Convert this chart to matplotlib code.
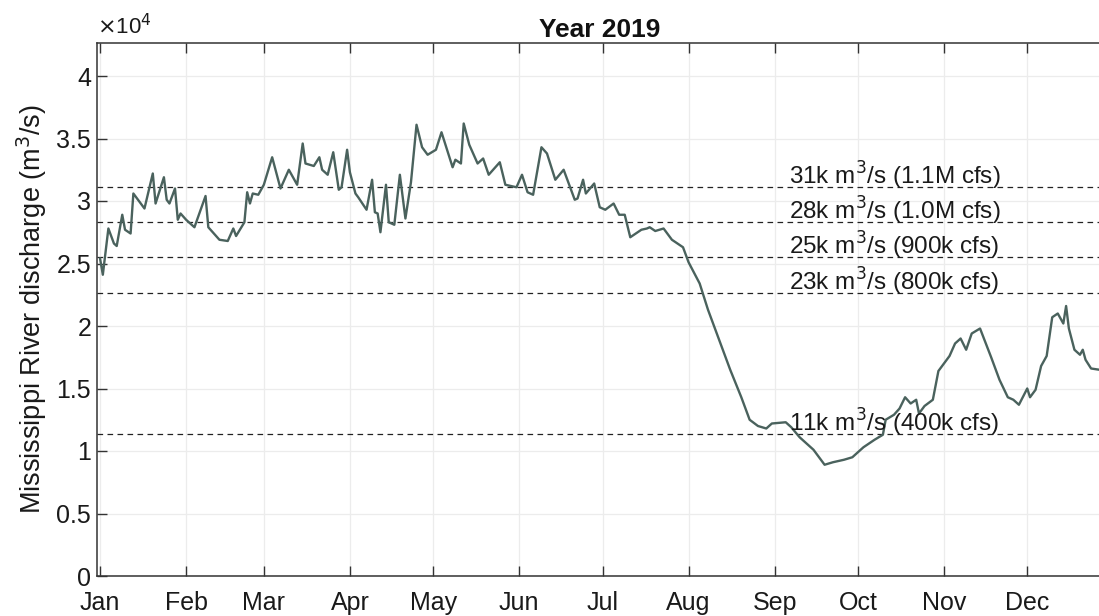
import numpy as np
import matplotlib
matplotlib.use("Agg")
import matplotlib.pyplot as plt
import matplotlib.dates as mdates
from matplotlib.ticker import FuncFormatter, MultipleLocator

plt.rcParams['font.family'] = ['Liberation Sans', 'DejaVu Sans']

# Daily Mississippi River discharge, 2019 (day of year, m^3/s)
day_of_year = [0, 1, 3, 5, 6, 8, 9, 11, 12, 16, 19, 20, 23, 24, 25, 27, 28, 29, 31, 34,
               38, 39, 43, 46, 48, 49, 52, 53, 54, 55, 57, 59, 62, 65, 68, 71, 73, 74, 77, 79,
               80, 82, 84, 86, 87, 89, 90, 92, 93, 96, 98, 99, 100, 101, 103, 104, 106, 108, 110, 112,
               114, 116, 118, 121, 123, 127, 128, 130, 131, 133, 136, 138, 140, 144, 146, 150, 152, 154, 156, 159,
               161, 164, 167, 171, 172, 174, 175, 178, 180, 182, 185, 187, 189, 191, 195, 197, 198, 200, 203, 206,
               210, 212, 216, 219, 223, 227, 231, 234, 237, 240, 242, 247, 249, 252, 257, 261, 264, 268, 271, 275,
               279, 282, 283, 286, 288, 290, 292, 294, 295, 297, 300, 302, 304, 306, 308, 310, 312, 314, 317, 321,
               324, 327, 329, 331, 334, 335, 337, 339, 341, 343, 345, 347, 348, 349, 351, 353, 354, 355, 357, 360]
discharge = [25400, 24100, 27800, 26600, 26400, 28900, 27700, 27400, 30600, 29400, 32200, 29800, 31900, 30100, 29800, 31000, 28500, 29000, 28500, 27900,
             30400, 27900, 26900, 26800, 27800, 27200, 28300, 30700, 29800, 30600, 30500, 31300, 33500, 31000, 32500, 31300, 34600, 33000, 32800, 33500,
             32500, 32100, 33900, 30900, 31100, 34100, 32300, 30600, 30300, 29300, 31700, 29100, 29000, 27500, 31300, 28300, 28100, 32100, 28600, 31500,
             36100, 34300, 33700, 34100, 35500, 32700, 33300, 33000, 36200, 34500, 33000, 33400, 32100, 33100, 31300, 31100, 32100, 30700, 30500, 34300,
             33800, 31700, 32500, 30100, 30200, 31700, 30600, 31400, 29500, 29300, 29800, 28900, 28900, 27100, 27700, 27800, 27900, 27600, 27800, 26900,
             26300, 25100, 23400, 21300, 18900, 16500, 14300, 12500, 12000, 11800, 12200, 12300, 11900, 11100, 10100, 8900, 9100, 9300, 9500, 10300,
             10900, 11300, 12500, 12900, 13400, 14300, 13800, 14100, 13000, 13600, 14100, 16400, 17000, 17600, 18600, 19000, 18100, 19400, 19800, 17500,
             15700, 14300, 14100, 13700, 15000, 14300, 14900, 16800, 17600, 20700, 21000, 20200, 21600, 19800, 18100, 17700, 18100, 17300, 16600, 16500]

# Reference flow levels (cfs) and their labels
threshold_cfs = [1.1e6, 1.0e6, 9.0e5, 8.0e5, 4.0e5]
threshold_labels = ['31k m$^3$/s (1.1M cfs)', '28k m$^3$/s (1.0M cfs)',
                    '25k m$^3$/s (900k cfs)', '23k m$^3$/s (800k cfs)',
                    '11k m$^3$/s (400k cfs)']
CFS_TO_CMS = 0.0283168

start = np.datetime64('2019-01-01')
dates = start + np.array(day_of_year).astype('timedelta64[D]')

W, H = 1099, 616
fig = plt.figure(figsize=(W / 100, H / 100), dpi=100)
ax_l, ax_r, ax_b, ax_t = 96.7, 1103, 576, 43
ax = fig.add_axes([ax_l / W, (H - ax_b) / H, (ax_r - ax_l) / W, (ax_b - ax_t) / H])

ax.plot(dates, discharge, color='#4a625d', lw=1.7, zorder=3)

label_x = start + np.timedelta64(248, 'D')
for cfs, lab in zip(threshold_cfs, threshold_labels):
    q = cfs * CFS_TO_CMS
    ax.axhline(q, color='#222222', lw=0.9, ls=(0, (4.5, 3.5)), zorder=2)
    ax.text(label_x, q + 200, lab, fontsize=17.5, color='#1a1a1a',
            ha='left', va='baseline', zorder=4)

ax.set_xlim(start - np.timedelta64(29, 'h'), start + np.timedelta64(8671, 'h'))
ax.set_ylim(0, 42640)

ax.xaxis.set_major_locator(mdates.MonthLocator())
ax.xaxis.set_major_formatter(mdates.DateFormatter('%b'))
ax.yaxis.set_major_locator(MultipleLocator(5000))
ax.yaxis.set_major_formatter(FuncFormatter(lambda v, p: f'{v / 1e4:g}'))

ax.grid(True, color='#ececec', lw=0.9, zorder=0)
ax.tick_params(axis='both', direction='in', length=7, width=1.0, color='#333333',
               labelsize=18, labelcolor='#1a1a1a')
ax.tick_params(axis='x', top=True, pad=11)
ax.tick_params(axis='y', right=False, pad=4)
for side, sp in ax.spines.items():
    sp.set_color('#333333')
    sp.set_linewidth(1.1)
ax.spines['right'].set_visible(False)

ax.set_title('Year 2019', fontsize=19, fontweight='bold', color='#111111', pad=4)
ax.set_ylabel('Mississippi River discharge (m$^3$/s)', fontsize=19.5, color='#1a1a1a', labelpad=5)
ax.annotate(r'$\times$10$^4$', xy=(0, 1), xycoords='axes fraction',
            xytext=(0, 3), textcoords='offset points', fontsize=16,
            color='#1a1a1a', ha='left', va='bottom')

fig.savefig('out.png', dpi=100)
